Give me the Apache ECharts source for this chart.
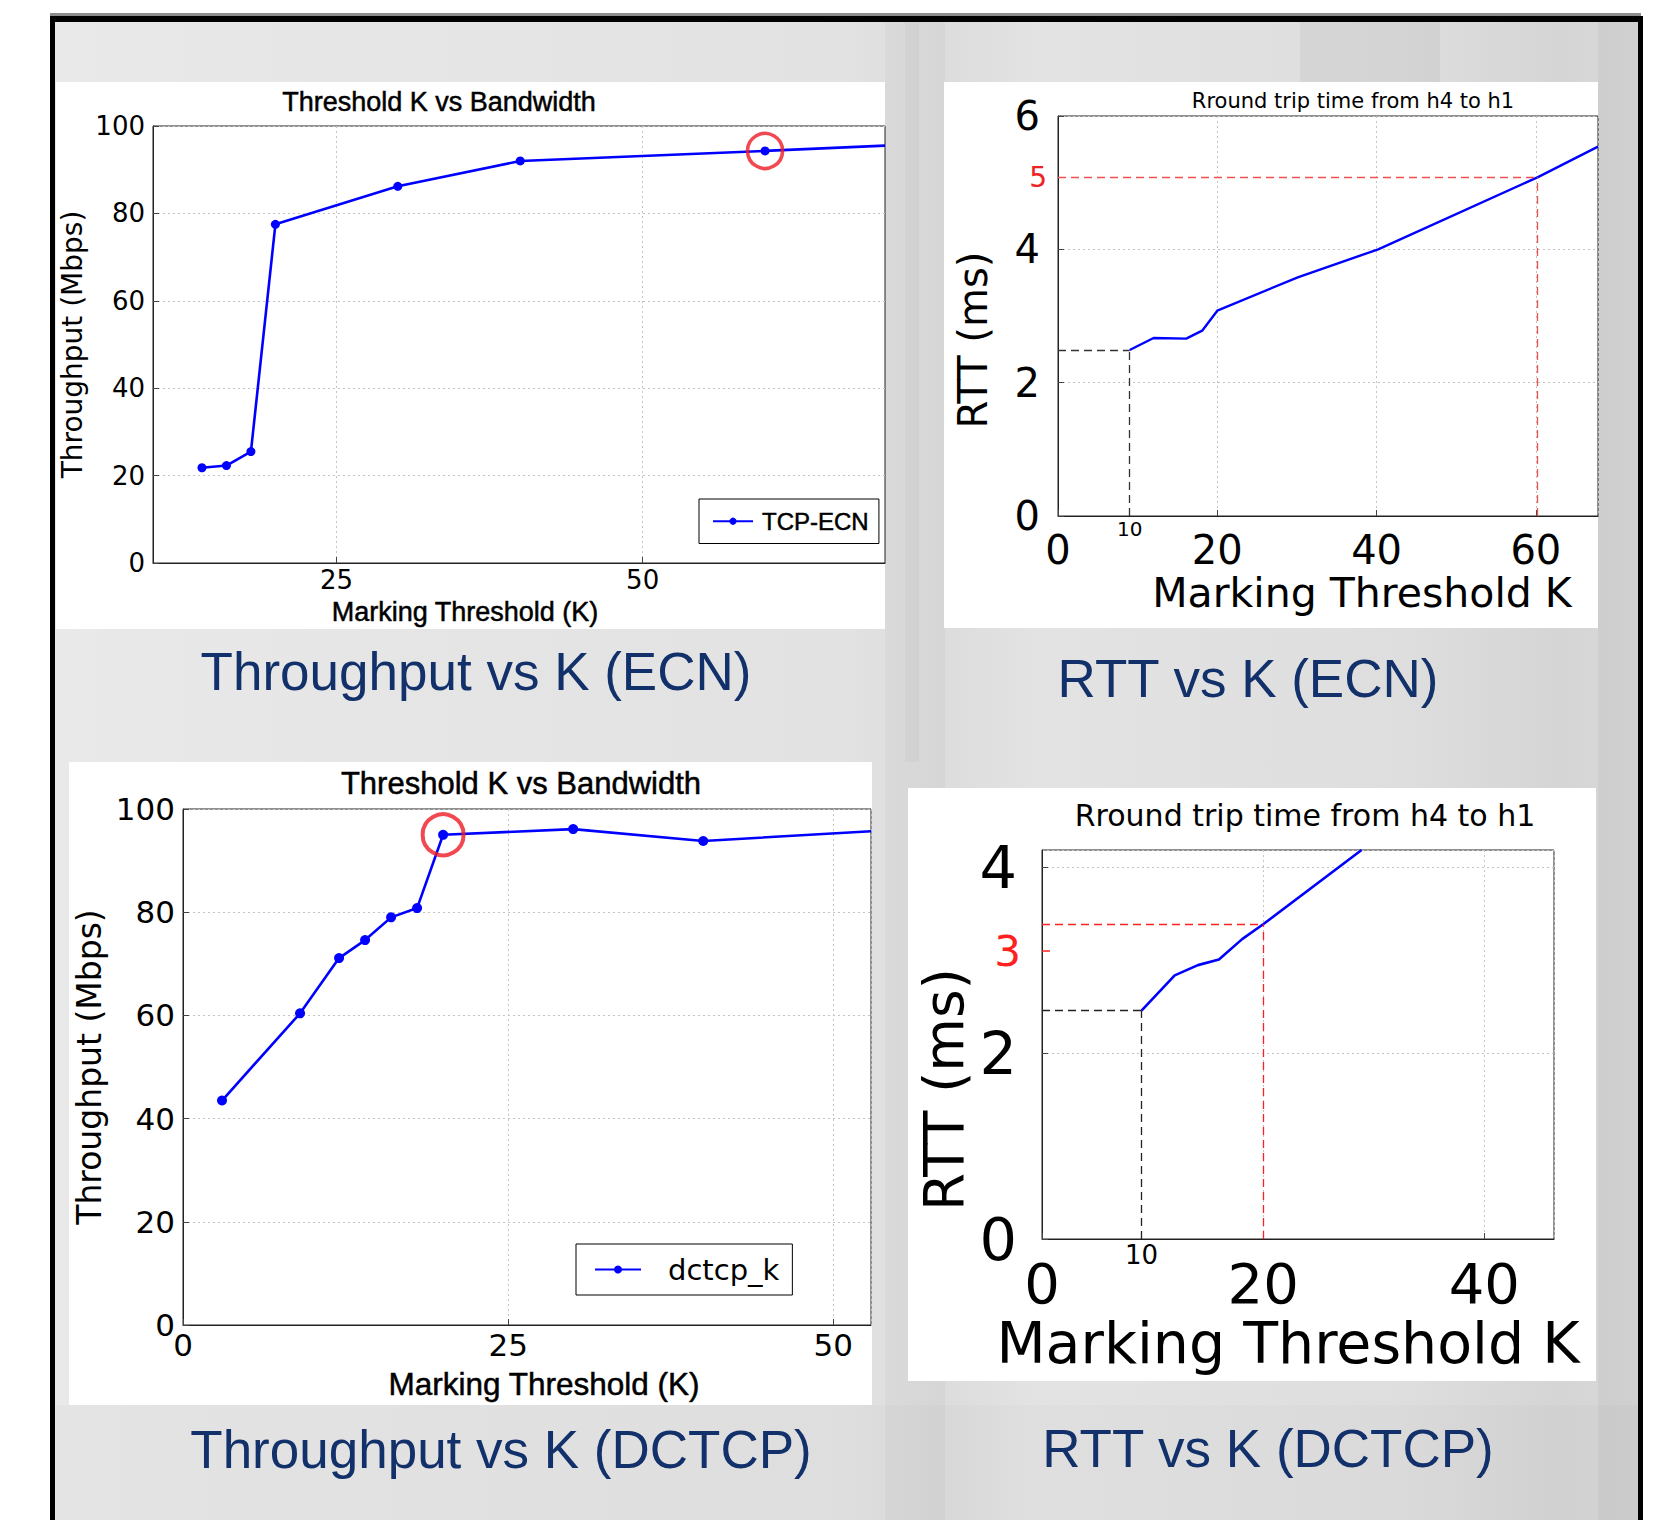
<!DOCTYPE html>
<html><head><meta charset="utf-8">
<script src="https://cdn.jsdelivr.net/npm/echarts@6/dist/echarts.min.js"></script>
<style>html,body{margin:0;padding:0;background:#fff}#c{width:1655px;height:1520px}</style>
</head><body><div id="c"></div><script>
// ---- data ----
const ecnTpK = [14, 16, 18, 20, 30, 40, 60, 69.8];
const ecnTpMbps = [21.8, 22.3, 25.5, 77.5, 86.2, 92.0, 94.3, 95.5];
const ecnTpMarked = [60, 94.3];

const ecnRttK = [9, 12, 16.1, 18.1, 20, 30.1, 40.2, 60.2, 67.8];
const ecnRttMs = [2.49, 2.67, 2.66, 2.78, 3.08, 3.58, 4.0, 5.08, 5.54];
const ecnRefLow = [9, 2.49];
const ecnRefHigh = [60.2, 5.08];

const dctcpTpK = [3, 9, 12, 14, 16, 18, 20, 30, 40, 52.9];
const dctcpTpMbps = [43.5, 60.4, 71.1, 74.6, 79.0, 80.8, 95.0, 96.1, 93.8, 95.7];
const dctcpTpMarked = [20, 95.0];

const dctcpRttK = [9, 12, 14.1, 16, 18.1, 20, 28.9];
const dctcpRttMs = [2.46, 2.84, 2.95, 3.01, 3.23, 3.39, 4.19];
const dctcpRefLow = [9, 2.46];
const dctcpRefHigh = [20, 3.39];
const dctcpRedTick = 3.1;

const tpXTicksEcn = [25, 50];
const refLowLabel = '10';
const titlesTp = 'Threshold K vs Bandwidth';
const titlesRtt = 'Rround trip time from h4 to h1';
const captions = ['Throughput vs K (ECN)', 'RTT vs K (ECN)', 'Throughput vs K (DCTCP)', 'RTT vs K (DCTCP)'];

// ---- helpers ----
const zip = (a, b) => a.map((v, i) => [v, b[i]]);
const DJ = 'DejaVu Sans', LS = 'Liberation Sans';
const BLUE = '#0000ff', RED = '#ee1c25', NAVY = '#12306a';
const gridLine = {show: true, lineStyle: {color: '#c4c4c4', type: [2, 3], width: 1}};
const tickIn = {show: true, inside: true, length: 6, lineStyle: {color: '#444'}};
const axLine = {show: true, lineStyle: {color: '#222', width: 1}};
const heavy = {textBorderColor: '#000', textBorderWidth: 0.5};

function lbl(size, margin, extra) {
  return Object.assign({fontFamily: DJ, fontSize: size, color: '#000', margin: margin, showMaxLabel: false}, extra || {});
}

const chart = echarts.init(document.getElementById('c'), null, {renderer: 'svg'});

const bgFill = {type: 'linear', x: 0, y: 0, x2: 1, y2: 0, colorStops: [
  {offset: 0, color: '#e9e9e9'}, {offset: 0.25, color: '#e5e5e5'}, {offset: 0.5, color: '#e2e2e2'},
  {offset: 0.56, color: '#dcdcdc'}, {offset: 0.62, color: '#e3e3e3'}, {offset: 0.85, color: '#dedede'},
  {offset: 0.95, color: '#d5d5d5'}, {offset: 1, color: '#d9d9d9'}]};

const graphic = [
  {type: 'rect', z: -20, shape: {x: 55, y: 22, width: 1583, height: 1498}, style: {fill: bgFill}},
  {type: 'rect', z: -19, shape: {x: 885, y: 22, width: 60, height: 1498}, style: {fill: 'rgba(110,110,110,0.05)'}},
  {type: 'rect', z: -19, shape: {x: 905, y: 22, width: 14, height: 740}, style: {fill: 'rgba(90,90,90,0.05)'}},
  {type: 'rect', z: -19, shape: {x: 1300, y: 22, width: 140, height: 60}, style: {fill: 'rgba(90,90,90,0.07)'}},
  {type: 'rect', z: -19, shape: {x: 1598, y: 22, width: 40, height: 1498}, style: {fill: 'rgba(100,100,100,0.08)'}},
  {type: 'rect', z: -19, shape: {x: 55, y: 1405, width: 1583, height: 115}, style: {fill: 'rgba(120,120,120,0.04)'}},
  {type: 'rect', z: -15, shape: {x: 50, y: 13, width: 1591, height: 3}, style: {fill: '#8c8c8c'}},
  {type: 'rect', z: -15, shape: {x: 50, y: 16, width: 1593, height: 6}, style: {fill: '#000'}},
  {type: 'rect', z: -15, shape: {x: 50, y: 16, width: 5, height: 1504}, style: {fill: '#000'}},
  {type: 'rect', z: -15, shape: {x: 1638, y: 16, width: 5, height: 1504}, style: {fill: '#000'}},
  {type: 'rect', z: -16, shape: {x: 56, y: 82, width: 829, height: 547}, style: {fill: '#fff'}},
  {type: 'rect', z: -16, shape: {x: 944, y: 82, width: 654, height: 546}, style: {fill: '#fff'}},
  {type: 'rect', z: -16, shape: {x: 69, y: 762, width: 803, height: 643}, style: {fill: '#fff'}},
  {type: 'rect', z: -16, shape: {x: 908, y: 788, width: 688, height: 593}, style: {fill: '#fff'}}
];

function ttl(text, x, y, font, size, color, extra) {
  return {text: text, left: x, top: y, textAlign: 'center', textVerticalAlign: 'middle', padding: 0,
    textStyle: Object.assign({fontFamily: font, fontSize: size, fontWeight: 'normal', color: color || '#000'}, extra || {})};
}

const grids = [
  {left: 153, top: 126, width: 732, height: 437},
  {left: 1058, top: 116, width: 540, height: 400},
  {left: 183, top: 809, width: 688, height: 516},
  {left: 1042, top: 850, width: 512, height: 389}
].map(g => Object.assign({show: true, borderColor: '#222', borderWidth: 1, backgroundColor: 'transparent', containLabel: false}, g));

const xAxes = [
  {gridIndex: 0, type: 'value', min: 10, max: 69.8,
   name: 'Marking Threshold (K)', nameLocation: 'middle', nameGap: 35,
   nameTextStyle: Object.assign({fontFamily: LS, fontSize: 27, color: '#000', padding: [0, 108, 0, 0]}, heavy),
   axisLabel: lbl(26, 4, {customValues: tpXTicksEcn, showMaxLabel: true}), axisTick: Object.assign({customValues: tpXTicksEcn}, tickIn),
   splitLine: gridLine, axisLine: axLine},
  {gridIndex: 1, type: 'value', min: 0, max: 67.8, interval: 20,
   name: 'Marking Threshold K', nameLocation: 'middle', nameGap: 56,
   nameTextStyle: {fontFamily: DJ, fontSize: 41, color: '#000', padding: [0, 0, 0, 68]},
   axisLabel: lbl(40, 14), axisTick: tickIn, splitLine: gridLine, axisLine: axLine},
  {gridIndex: 2, type: 'value', min: 0, max: 52.9, interval: 25,
   name: 'Marking Threshold (K)', nameLocation: 'middle', nameGap: 43,
   nameTextStyle: Object.assign({fontFamily: LS, fontSize: 31.5, color: '#000', padding: [0, 0, 0, 34]}, heavy),
   axisLabel: lbl(31, 4), axisTick: tickIn, splitLine: gridLine, axisLine: axLine},
  {gridIndex: 3, type: 'value', min: 0, max: 46.3, interval: 20,
   name: 'Marking Threshold K', nameLocation: 'middle', nameGap: 75,
   nameTextStyle: {fontFamily: DJ, fontSize: 57, color: '#000', padding: [0, 20, 0, 0]},
   axisLabel: lbl(56, 16), axisTick: tickIn, splitLine: gridLine, axisLine: axLine}
];

const yAxes = [
  {gridIndex: 0, type: 'value', min: 0, max: 100, interval: 20,
   name: 'Throughput (Mbps)', nameLocation: 'middle', nameRotate: 90, nameGap: 67,
   nameTextStyle: {fontFamily: DJ, fontSize: 28, color: '#000'},
   axisLabel: lbl(26, 8, {showMaxLabel: true}), axisTick: tickIn, splitLine: gridLine, axisLine: axLine},
  {gridIndex: 1, type: 'value', min: 0, max: 6, interval: 2,
   name: 'RTT (ms)', nameLocation: 'middle', nameRotate: 90, nameGap: 65,
   nameTextStyle: {fontFamily: DJ, fontSize: 40, color: '#000', padding: [0, 48, 0, 0]},
   axisLabel: lbl(40, 18, {showMaxLabel: true}), axisTick: tickIn, splitLine: gridLine, axisLine: axLine},
  {gridIndex: 2, type: 'value', min: 0, max: 100, interval: 20,
   name: 'Throughput (Mbps)', nameLocation: 'middle', nameRotate: 90, nameGap: 77,
   nameTextStyle: {fontFamily: DJ, fontSize: 33, color: '#000'},
   axisLabel: lbl(31, 8, {showMaxLabel: true}), axisTick: tickIn, splitLine: gridLine, axisLine: axLine},
  {gridIndex: 3, type: 'value', min: 0, max: 4.19, interval: 2,
   name: 'RTT (ms)', nameLocation: 'middle', nameRotate: 90, nameGap: 71,
   nameTextStyle: {fontFamily: DJ, fontSize: 55, color: '#000', padding: [0, 90, 0, 0]},
   axisLabel: lbl(59, 25), axisTick: tickIn, splitLine: gridLine, axisLine: axLine}
];

const dash = (c) => ({color: c, type: [8, 5], width: 1.3});
const refLabel = (txt, size, color, dist) => ({show: true, formatter: txt, position: 'start', distance: dist,
  fontFamily: DJ, fontSize: size, color: color});

function lastHidden(n, sym) {
  return (v, p) => (p.dataIndex === n - 1 ? 'none' : sym);
}

const series = [
  {name: 'TCP-ECN', type: 'line', xAxisIndex: 0, yAxisIndex: 0, data: zip(ecnTpK, ecnTpMbps),
   symbol: lastHidden(ecnTpK.length, 'circle'), symbolSize: 9, showAllSymbol: true,
   lineStyle: {color: BLUE, width: 2.6}, itemStyle: {color: BLUE}, z: 3},
  {name: 'ecn-mark', type: 'scatter', xAxisIndex: 0, yAxisIndex: 0, data: [ecnTpMarked],
   symbol: 'circle', symbolSize: 35, silent: true, z: 4,
   itemStyle: {color: 'rgba(0,0,0,0)', borderColor: RED, borderWidth: 3.6}},
  {name: 'RTT-ECN', type: 'line', xAxisIndex: 1, yAxisIndex: 1, data: zip(ecnRttK, ecnRttMs),
   symbol: 'none', lineStyle: {color: BLUE, width: 2.4}, z: 3,
   markLine: {silent: true, symbol: ['none', 'none'], animation: false, label: {show: false},
     data: [
       [{coord: [0, ecnRefLow[1]], lineStyle: dash('#333')}, {coord: [ecnRefLow[0], ecnRefLow[1]]}],
       [{coord: [ecnRefLow[0], 0], lineStyle: dash('#333'), label: refLabel(refLowLabel, 20, '#000', 3)}, {coord: [ecnRefLow[0], ecnRefLow[1]]}],
       [{coord: [0, ecnRefHigh[1]], lineStyle: dash('#f05050'), label: refLabel('5', 28, '#ee2222', 11)}, {coord: [ecnRefHigh[0], ecnRefHigh[1]]}],
       [{coord: [ecnRefHigh[0], 0], lineStyle: dash('#f05050')}, {coord: [ecnRefHigh[0], ecnRefHigh[1]]}]
     ]}},
  {name: 'dctcp_k', type: 'line', xAxisIndex: 2, yAxisIndex: 2, data: zip(dctcpTpK, dctcpTpMbps),
   symbol: lastHidden(dctcpTpK.length, 'circle'), symbolSize: 10, showAllSymbol: true,
   lineStyle: {color: BLUE, width: 2.6}, itemStyle: {color: BLUE}, z: 3},
  {name: 'dctcp-mark', type: 'scatter', xAxisIndex: 2, yAxisIndex: 2, data: [dctcpTpMarked],
   symbol: 'circle', symbolSize: 41, silent: true, z: 4,
   itemStyle: {color: 'rgba(0,0,0,0)', borderColor: RED, borderWidth: 4}},
  {name: 'RTT-DCTCP', type: 'line', xAxisIndex: 3, yAxisIndex: 3, data: zip(dctcpRttK, dctcpRttMs),
   symbol: 'none', lineStyle: {color: BLUE, width: 2.6}, z: 3,
   markLine: {silent: true, symbol: ['none', 'none'], animation: false, label: {show: false},
     data: [
       [{coord: [0, dctcpRefLow[1]], lineStyle: dash('#222')}, {coord: [dctcpRefLow[0], dctcpRefLow[1]]}],
       [{coord: [dctcpRefLow[0], 0], lineStyle: dash('#222'), label: refLabel(refLowLabel, 26, '#000', 3)}, {coord: [dctcpRefLow[0], dctcpRefLow[1]]}],
       [{coord: [0, dctcpRefHigh[1]], lineStyle: dash('#ff2020')}, {coord: [dctcpRefHigh[0], dctcpRefHigh[1]]}],
       [{coord: [dctcpRefHigh[0], 0], lineStyle: dash('#ff2020')}, {coord: [dctcpRefHigh[0], dctcpRefHigh[1]]}],
       [{coord: [0, dctcpRedTick], lineStyle: {color: '#ff2020', type: 'solid', width: 1.5}, label: refLabel('3', 42, '#ff2020', 21)}, {coord: [0.72, dctcpRedTick]}]
     ]}}
];

const option = {
  animation: false,
  backgroundColor: '#ffffff',
  graphic: graphic,
  title: [
    ttl(titlesTp, 439, 102, LS, 27, '#000', heavy),
    ttl(titlesRtt, 1353, 101, DJ, 21),
    ttl(titlesTp, 521, 783, LS, 31, '#000', heavy),
    ttl(titlesRtt, 1305, 815, DJ, 30),
    ttl(captions[0], 476, 671, LS, 53, NAVY),
    ttl(captions[1], 1248, 678, LS, 53, NAVY),
    ttl(captions[2], 501, 1449, LS, 53, NAVY),
    ttl(captions[3], 1268, 1448, LS, 53, NAVY)
  ],
  legend: [
    {data: ['TCP-ECN'], left: 699, top: 499, orient: 'horizontal', backgroundColor: '#fff',
     borderColor: '#000', borderWidth: 1, borderRadius: 0, padding: [10, 10, 10, 13],
     itemWidth: 40, itemHeight: 9, selectedMode: false,
     textStyle: Object.assign({fontFamily: LS, fontSize: 24, color: '#000', padding: [0, 0, 0, 4]}, heavy)},
    {data: ['dctcp_k'], left: 576, top: 1244, orient: 'horizontal', backgroundColor: '#fff',
     borderColor: '#000', borderWidth: 1, borderRadius: 0, padding: [11, 13, 11, 18],
     itemWidth: 46, itemHeight: 10, selectedMode: false,
     textStyle: {fontFamily: DJ, fontSize: 29, color: '#000', padding: [0, 0, 0, 22]}}
  ],
  grid: grids,
  xAxis: xAxes,
  yAxis: yAxes,
  series: series
};
chart.setOption(option);
</script></body></html>
